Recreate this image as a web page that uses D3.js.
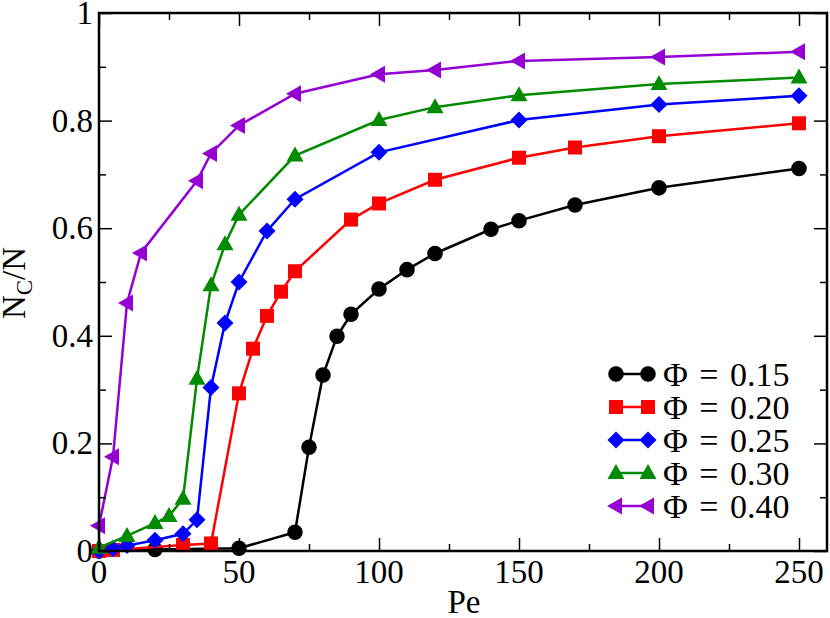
<!DOCTYPE html>
<html>
<head>
<meta charset="utf-8">
<script src="https://cdn.jsdelivr.net/npm/d3@7"></script>
<style>
  body { margin: 0; background: #fff; }
  svg { display: block; }
  text { font-family: "Liberation Serif", "Times New Roman", serif; fill: #000; }
</style>
</head>
<body>
<script>
// N_C/N vs Pe for several packing fractions
var pe015 = [0, 20, 50, 70, 75, 80, 85, 90, 100, 110, 120, 140, 150, 170, 200, 250];
var nc015 = [0.0, 0.003, 0.005, 0.035, 0.193, 0.327, 0.399, 0.44, 0.487, 0.523, 0.553, 0.598, 0.614, 0.643, 0.675, 0.711];

var pe020 = [0, 5, 30, 40, 50, 55, 60, 65, 70, 90, 100, 120, 150, 170, 200, 250];
var nc020 = [0.0, 0.002, 0.011, 0.014, 0.293, 0.376, 0.437, 0.482, 0.52, 0.616, 0.646, 0.69, 0.731, 0.75, 0.771, 0.795];

var pe025 = [0, 5, 10, 20, 30, 35, 40, 45, 50, 60, 70, 100, 150, 200, 250];
var nc025 = [0.0, 0.004, 0.01, 0.02, 0.032, 0.058, 0.304, 0.424, 0.5, 0.595, 0.654, 0.741, 0.801, 0.83, 0.846];

var pe030 = [0, 10, 20, 25, 30, 35, 40, 45, 50, 70, 100, 120, 150, 200, 250];
var nc030 = [0.006, 0.028, 0.052, 0.065, 0.097, 0.32, 0.494, 0.57, 0.625, 0.735, 0.801, 0.825, 0.847, 0.868, 0.88];

var pe040 = [0, 5, 10, 15, 35, 40, 50, 70, 100, 120, 150, 200, 250];
var nc040 = [0.047, 0.175, 0.461, 0.554, 0.688, 0.739, 0.791, 0.85, 0.886, 0.894, 0.911, 0.918, 0.928];

var labels = ["\u03A6 = 0.15", "\u03A6 = 0.20", "\u03A6 = 0.25", "\u03A6 = 0.30", "\u03A6 = 0.40"];
var colors = ["#000000", "#ff0000", "#0000ff", "#008b00", "#9400d3"];
var shapes = ["circle", "square", "diamond", "triangle", "left"];

var xTicks = [0, 50, 100, 150, 200, 250];
var yTicks = [0, 0.2, 0.4, 0.6, 0.8, 1];

var series = [
  { pe: pe015, nc: nc015 },
  { pe: pe020, nc: nc020 },
  { pe: pe025, nc: nc025 },
  { pe: pe030, nc: nc030 },
  { pe: pe040, nc: nc040 }
];

var width = 830, height = 618;
var m = { l: 99, r: 827, t: 13, b: 551 };

var x = d3.scaleLinear().domain([0, 260]).range([m.l, m.r]);
var y = d3.scaleLinear().domain([0, 1]).range([m.b, m.t]);

var svg = d3.select("body").append("svg").attr("width", width).attr("height", height);

// marker path builder
function marker(shape) {
  if (shape == "circle") return d3.symbol().type(d3.symbolCircle).size(190)();
  if (shape == "square") return "M-7,-7L7,-7L7,7L-7,7Z";
  if (shape == "diamond") return "M0,-8.5L8.5,0L0,8.5L-8.5,0Z";
  if (shape == "triangle") return "M0,-9L8.5,6L-8.5,6Z";
  return "M-9,0L6,-8.5L6,8.5Z";
}

// data
var line = d3.line().x(function (d) { return x(d[0]); }).y(function (d) { return y(d[1]); });
series.forEach(function (s, i) {
  var pts = s.pe.map(function (p, j) { return [p, s.nc[j]]; });
  var g = svg.append("g");
  g.append("path")
    .attr("d", line(pts))
    .attr("fill", "none")
    .attr("stroke", colors[i])
    .attr("stroke-width", 2.5);
  g.selectAll("path.pt")
    .data(pts)
    .enter()
    .append("path")
    .attr("class", "pt")
    .attr("d", marker(shapes[i]))
    .attr("transform", function (d) { return "translate(" + x(d[0]) + "," + y(d[1]) + ")"; })
    .attr("fill", colors[i]);
});

// axes, ticks inward and mirrored
var minorX = d3.range(25, 260, 50);
var minorY = d3.range(0.1, 1, 0.2);
function drawAxis(ax, vals, size, tr) {
  var g = svg.append("g").attr("transform", tr).call(ax.tickValues(vals).tickSize(size).tickFormat(""));
  g.select(".domain").remove();
  g.selectAll("line").attr("stroke", "#000").attr("stroke-width", 1.5);
}
drawAxis(d3.axisTop(x), xTicks, 13, "translate(0," + m.b + ")");
drawAxis(d3.axisTop(x), minorX, 7, "translate(0," + m.b + ")");
drawAxis(d3.axisBottom(x), xTicks, 13, "translate(0," + m.t + ")");
drawAxis(d3.axisBottom(x), minorX, 7, "translate(0," + m.t + ")");
drawAxis(d3.axisRight(y), yTicks, 13, "translate(" + m.l + ",0)");
drawAxis(d3.axisRight(y), minorY, 7, "translate(" + m.l + ",0)");
drawAxis(d3.axisLeft(y), yTicks, 13, "translate(" + m.r + ",0)");
drawAxis(d3.axisLeft(y), minorY, 7, "translate(" + m.r + ",0)");

svg.append("rect")
  .attr("x", m.l).attr("y", m.t)
  .attr("width", m.r - m.l).attr("height", m.b - m.t)
  .attr("fill", "none").attr("stroke", "#000").attr("stroke-width", 2.5);

// tick labels
svg.selectAll("text.xt")
  .data(xTicks)
  .enter()
  .append("text")
  .attr("class", "xt")
  .attr("x", function (d) { return x(d); })
  .attr("y", 583)
  .attr("text-anchor", "middle")
  .attr("font-size", 33)
  .text(function (d) { return d; });

svg.selectAll("text.yt")
  .data(yTicks)
  .enter()
  .append("text")
  .attr("class", "yt")
  .attr("x", 93)
  .attr("y", function (d) { return y(d) + 11; })
  .attr("text-anchor", "end")
  .attr("font-size", 33)
  .text(function (d) { return d == 0 || d == 1 ? d : d.toFixed(1); });

// axis titles
svg.append("text")
  .attr("x", 464)
  .attr("y", 613)
  .attr("text-anchor", "middle")
  .attr("font-size", 33)
  .text("Pe");

var yl = svg.append("text")
  .attr("transform", "translate(25,283) rotate(-90)")
  .attr("text-anchor", "middle")
  .attr("font-size", 33);
yl.append("tspan").text("N");
yl.append("tspan").attr("font-size", 23).attr("dy", 7).text("C");
yl.append("tspan").attr("dy", -7).text("/N");

// legend
var leg = svg.append("g").attr("id", "legend");
labels.forEach(function (lab, i) {
  var ly = 374 + i * 33;
  leg.append("line")
    .attr("x1", 616).attr("x2", 648)
    .attr("y1", ly).attr("y2", ly)
    .attr("stroke", colors[i]).attr("stroke-width", 2.5);
  [616, 648].forEach(function (mx) {
    leg.append("path")
      .attr("d", marker(shapes[i]))
      .attr("transform", "translate(" + mx + "," + ly + ")")
      .attr("fill", colors[i]);
  });
  leg.append("text")
    .attr("x", 663)
    .attr("y", ly + 12)
    .attr("font-size", 34)
    .attr("word-spacing", 3)
    .text(lab);
});
</script>
</body>
</html>
